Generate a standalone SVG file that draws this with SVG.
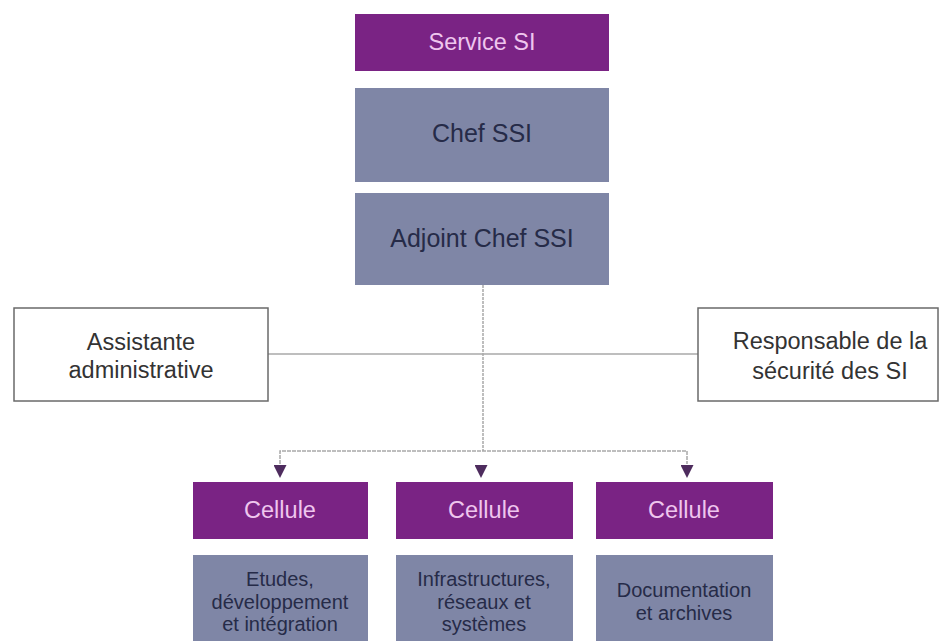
<svg xmlns="http://www.w3.org/2000/svg" width="939" height="641" viewBox="0 0 939 641">
<defs>
<style>
.t{font-family:"Liberation Sans",Arial,sans-serif;text-anchor:middle}
.purple{fill:#7a2384}
.grey{fill:#7f86a6}
.white{fill:#ffffff;stroke:#6a6a6a;stroke-width:1.5}
.pt{fill:#efc6ee}
.gt{fill:#262b48;font-size:25px}
.st{fill:#262b48;font-size:20px}
.wt{fill:#333333;font-size:23.5px}
.ln{stroke:#a9a9a9;stroke-width:1.5;fill:none}
</style>
<marker id="ah" viewBox="0 0 10 10" refX="10" refY="5" markerWidth="16" markerHeight="13" markerUnits="userSpaceOnUse" orient="auto">
<path d="M0,0 L10,5 L0,10 Z" fill="#4e2c5e"/>
</marker>
</defs>
<rect width="939" height="641" fill="#ffffff"/>
<g id="connectors">
<line class="ln" x1="483" y1="285" x2="483" y2="451" stroke-dasharray="3,1"/>
<line class="ln" x1="268" y1="354" x2="698" y2="354"/>
<path class="ln" d="M280,464 V451 H687 V464" stroke-dasharray="4,1"/>
<line x1="280" y1="462" x2="280" y2="478" stroke="none" marker-end="url(#ah)"/>
<line x1="481" y1="462" x2="481" y2="478" stroke="none" marker-end="url(#ah)"/>
<line x1="687" y1="462" x2="687" y2="478" stroke="none" marker-end="url(#ah)"/>
</g>
<g id="service">
<rect class="purple" x="355" y="14" width="254" height="57"/>
<text class="t pt" x="482" y="50" font-size="23.5">Service SI</text>
</g>
<g id="chef">
<rect class="grey" x="355" y="88" width="254" height="94"/>
<text class="t gt" x="482" y="142">Chef SSI</text>
</g>
<g id="adjoint">
<rect class="grey" x="355" y="193" width="254" height="92"/>
<text class="t gt" x="482" y="247">Adjoint Chef SSI</text>
</g>
<g id="assistante">
<rect class="white" x="14" y="308" width="254" height="93"/>
<text class="t wt" x="141" y="350">Assistante</text>
<text class="t wt" x="141" y="378">administrative</text>
</g>
<g id="responsable">
<rect class="white" x="698" y="308" width="240" height="93"/>
<text class="t wt" x="830" y="349">Responsable de la</text>
<text class="t wt" x="830" y="379">sécurité des SI</text>
</g>
<g id="cellule1">
<rect class="purple" x="193" y="482" width="175" height="57"/>
<text class="t pt" x="280" y="518" font-size="23.5">Cellule</text>
<rect class="grey" x="193" y="555" width="175" height="90"/>
<text class="t st" x="280" y="586">Etudes,</text>
<text class="t st" x="280" y="609">développement</text>
<text class="t st" x="280" y="631">et intégration</text>
</g>
<g id="cellule2">
<rect class="purple" x="396" y="482" width="177" height="57"/>
<text class="t pt" x="484" y="518" font-size="23.5">Cellule</text>
<rect class="grey" x="396" y="555" width="177" height="90"/>
<text class="t st" x="484" y="586">Infrastructures,</text>
<text class="t st" x="484" y="609">réseaux et</text>
<text class="t st" x="484" y="631">systèmes</text>
</g>
<g id="cellule3">
<rect class="purple" x="596" y="482" width="177" height="57"/>
<text class="t pt" x="684" y="518" font-size="23.5">Cellule</text>
<rect class="grey" x="596" y="555" width="177" height="90"/>
<text class="t st" x="684" y="597">Documentation</text>
<text class="t st" x="684" y="620">et archives</text>
</g>
</svg>
